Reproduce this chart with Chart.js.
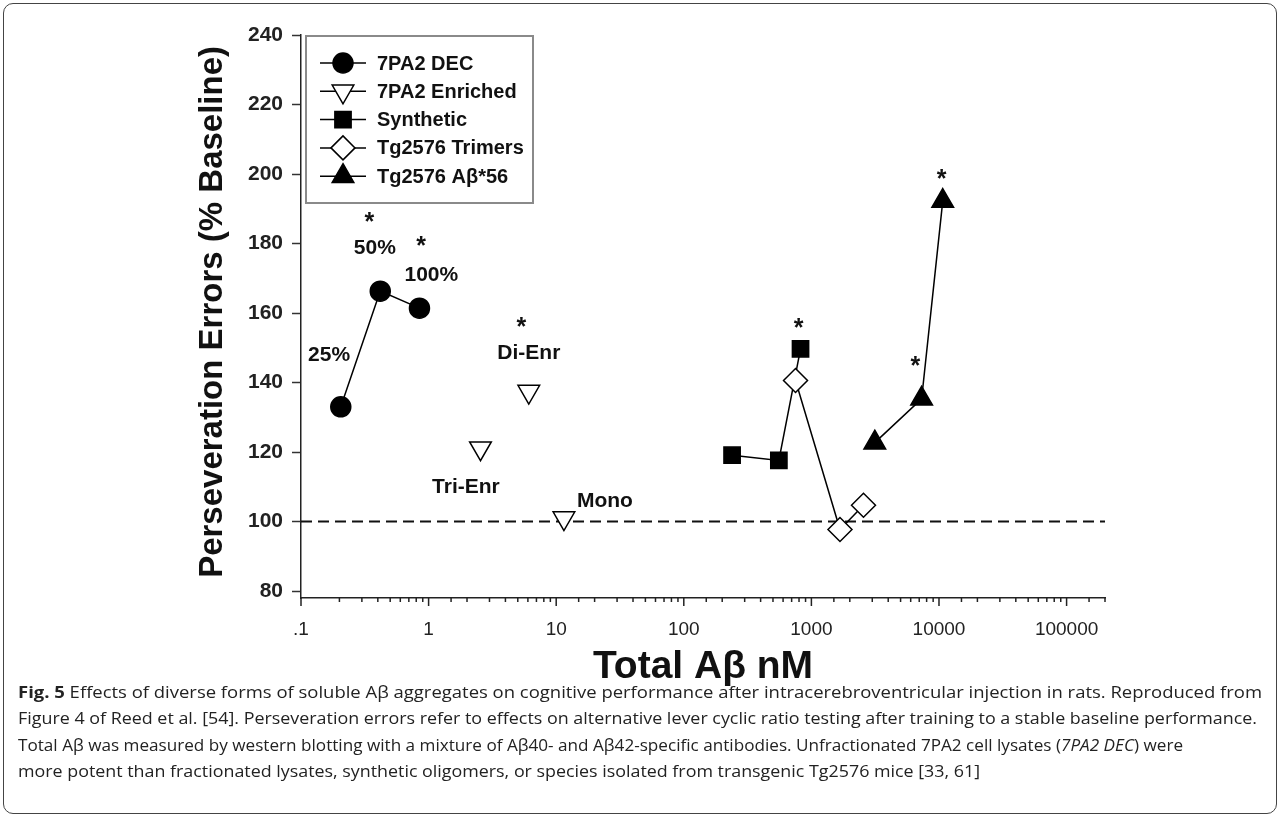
<!DOCTYPE html>
<html>
<head>
<meta charset="utf-8">
<script src="https://cdn.jsdelivr.net/npm/chart.js@4.4.1/dist/chart.umd.min.js"></script>
<style>
  html, body { margin: 0; padding: 0; background: #fff; }
  body { width: 1281px; height: 818px; position: relative; overflow: hidden; }
  #frame { position: absolute; left: 3px; top: 3px; width: 1272px; height: 809px; border: 1.5px solid #444; border-radius: 10px; }
  #chart { position: absolute; left: 0; top: 0; }
  #caption { position: absolute; left: 18px; top: 679px; font-family: "Open Sans", "Noto Sans", sans-serif; font-size: 16px; line-height: 26.4px; color: #222; }
  #caption div { white-space: nowrap; height: 26.4px; }
  #caption span { display: inline-block; transform-origin: 0 0; }
</style>
</head>
<body>
<div id="frame"></div>
<canvas id="chart" width="1281" height="700"></canvas>
<div id="caption">
  <div><span><b>Fig. 5</b> Effects of diverse forms of soluble Aβ aggregates on cognitive performance after intracerebroventricular injection in rats. Reproduced from</span></div>
  <div><span>Figure 4 of Reed et al. [54]. Perseveration errors refer to effects on alternative lever cyclic ratio testing after training to a stable baseline performance.</span></div>
  <div><span>Total Aβ was measured by western blotting with a mixture of Aβ40- and Aβ42-specific antibodies. Unfractionated 7PA2 cell lysates (<i>7PA2 DEC</i>) were</span></div>
  <div><span>more potent than fractionated lysates, synthetic oligomers, or species isolated from transgenic Tg2576 mice [33, 61]</span></div>
</div>
<script>
// axis ranges and ticks
const xMin = 0.1, xMax = 200000;
const yMin = 78, yMax = 240;
const yTicks = [80, 100, 120, 140, 160, 180, 200, 220, 240];
const xTickValues = [0.1, 1, 10, 100, 1000, 10000, 100000];
const xTickLabels = [".1", "1", "10", "100", "1000", "10000", "100000"];
const baselineY = 100;

// series (x = total Abeta nM, y = % baseline)
const seriesNames = ["7PA2 DEC", "7PA2 Enriched", "Synthetic", "Tg2576 Trimers", "Tg2576 Aβ*56"];
const decX = [0.205, 0.418, 0.848];
const decY = [133.0, 166.3, 161.4];
const enrX = [2.55, 6.1, 11.5];
const enrY = [121.1, 137.4, 101.0];
const synX = [239, 556, 822];
const synY = [119.1, 117.6, 149.7];
const triX = [751, 1675, 2560];
const triY = [140.6, 97.7, 104.7];
const a56X = [3140, 7310, 10700];
const a56Y = [122.7, 135.3, 192.2];

// text labels placed in data coordinates
const noteText = ["25%", "*", "50%", "*", "100%", "*", "Di-Enr", "Tri-Enr", "Mono", "*", "*", "*"];
const noteX = [0.166, 0.343, 0.379, 0.873, 1.05, 5.33, 6.1, 1.96, 24.1, 794, 6515, 10500];
const noteY = [147.8, 187.8, 178.7, 181.1, 170.9, 157.6, 148.5, 109.9, 105.9, 157.4, 146.4, 200.2];

// caption line widths measured on the figure
const captionWidths = [1244, 1239, 1165, 962];

const FONT = '"Liberation Sans", Arial, sans-serif';

function pts(xs, ys) {
  return xs.map((x, i) => ({ x: x, y: ys[i] }));
}

// legend drawn by hand: line through marker, boxed
const legendBox = {
  id: "legendBox",
  afterDraw(chart) {
    const ctx = chart.ctx;
    ctx.save();
    ctx.strokeStyle = "#8a8a8a";
    ctx.lineWidth = 2;
    ctx.strokeRect(306, 36, 227, 167);
    chart.data.datasets.forEach((ds, i) => {
      if (ds.label === "baseline") return;
      const y = 63 + i * 28.3;
      ctx.strokeStyle = "#000";
      ctx.lineWidth = 1.5;
      ctx.beginPath();
      ctx.moveTo(320, y);
      ctx.lineTo(366, y);
      ctx.stroke();
      ctx.fillStyle = ds.pointBackgroundColor;
      ctx.strokeStyle = "#000";
      ctx.lineWidth = ds.pointBorderWidth;
      Chart.helpers.drawPoint(ctx, {
        pointStyle: ds.pointStyle,
        radius: ds.pointRadius,
        rotation: ds.pointRotation || 0,
        borderWidth: ds.pointBorderWidth
      }, 343, y);
      ctx.fillStyle = "#111";
      ctx.font = "bold 20px " + FONT;
      ctx.textAlign = "left";
      ctx.textBaseline = "middle";
      ctx.fillText(ds.label, 377, y + 1);
    });
    ctx.restore();
  }
};

// asterisks and group labels
const notes = {
  id: "notes",
  afterDatasetsDraw(chart) {
    const ctx = chart.ctx;
    const xs = chart.scales.x, ys = chart.scales.y;
    ctx.save();
    ctx.fillStyle = "#111";
    ctx.textAlign = "center";
    noteText.forEach((t, i) => {
      const px = xs.getPixelForValue(noteX[i]);
      const py = ys.getPixelForValue(noteY[i]);
      if (t === "*") {
        ctx.font = "bold 25px " + FONT;
        ctx.textBaseline = "alphabetic";
        ctx.fillText(t, px, py + 14);
      } else {
        ctx.font = "bold 21px " + FONT;
        ctx.textBaseline = "middle";
        ctx.fillText(t, px, py);
      }
    });
    ctx.restore();
  }
};

// x tick marks: long at decades, short in between
const xTickMarks = {
  id: "xTickMarks",
  afterDraw(chart) {
    const ctx = chart.ctx;
    const sc = chart.scales.x;
    const y0 = chart.chartArea.bottom;
    ctx.save();
    ctx.strokeStyle = "#222";
    ctx.lineWidth = 1.5;
    sc.ticks.forEach(t => {
      const lg = Math.log10(t.value);
      const major = Math.abs(lg - Math.round(lg)) < 1e-6;
      const px = sc.getPixelForValue(t.value);
      ctx.beginPath();
      ctx.moveTo(px, y0);
      ctx.lineTo(px, y0 + (major ? 8 : 4));
      ctx.stroke();
    });
    ctx.restore();
  }
};

new Chart(document.getElementById("chart"), {
  type: "scatter",
  data: {
    datasets: [
      {
        label: seriesNames[0], data: pts(decX, decY), showLine: true,
        borderColor: "#000", borderWidth: 1.5,
        pointStyle: "circle", pointRadius: 10,
        pointBackgroundColor: "#000", pointBorderColor: "#000", pointBorderWidth: 1.5,
        order: 2
      },
      {
        label: seriesNames[1], data: pts(enrX, enrY), showLine: false,
        pointStyle: "triangle", pointRotation: 180, pointRadius: 12.5,
        pointBackgroundColor: "#fff", pointBorderColor: "#000", pointBorderWidth: 1.5,
        order: 2
      },
      {
        label: seriesNames[2], data: pts(synX, synY), showLine: true,
        borderColor: "#000", borderWidth: 1.5,
        pointStyle: "rect", pointRadius: 11.5,
        pointBackgroundColor: "#000", pointBorderColor: "#000", pointBorderWidth: 1.5,
        order: 5
      },
      {
        label: seriesNames[3], data: pts(triX, triY), showLine: true,
        borderColor: "#000", borderWidth: 1.5,
        pointStyle: "rectRot", pointRadius: 12,
        pointBackgroundColor: "#fff", pointBorderColor: "#000", pointBorderWidth: 1.5,
        order: 1
      },
      {
        label: seriesNames[4], data: pts(a56X, a56Y), showLine: true,
        borderColor: "#000", borderWidth: 1.5,
        pointStyle: "triangle", pointRadius: 12.5,
        pointBackgroundColor: "#000", pointBorderColor: "#000", pointBorderWidth: 1.5,
        order: 2
      },
      {
        label: "baseline", data: [{ x: xMin, y: baselineY }, { x: xMax, y: baselineY }],
        showLine: true, borderColor: "#111", borderWidth: 2, borderDash: [11, 6],
        pointRadius: 0, order: 10
      }
    ]
  },
  options: {
    responsive: false,
    devicePixelRatio: 1,
    animation: false,
    events: [],
    layout: { padding: { left: 189, top: 35, right: 176, bottom: 5 } },
    plugins: { legend: { display: false }, tooltip: { enabled: false } },
    scales: {
      x: {
        type: "logarithmic",
        min: xMin, max: xMax,
        afterFit: s => { s.height = 97; },
        grid: { display: false, drawTicks: false },
        border: { display: true, color: "#222", width: 1.5 },
        ticks: {
          autoSkip: false, maxRotation: 0, padding: 20,
          color: "#222", font: { family: FONT, size: 19 },
          callback: v => {
            const k = xTickValues.findIndex(t => Math.abs(t - v) / t < 1e-6);
            return k >= 0 ? xTickLabels[k] : "";
          }
        },
        title: {
          display: true, text: "Total Aβ nM", color: "#111",
          font: { family: FONT, size: 39, weight: "bold" }
        }
      },
      y: {
        min: yMin, max: yMax,
        afterFit: s => { s.width = 112; },
        afterBuildTicks: s => { s.ticks = yTicks.map(v => ({ value: v })); },
        grid: { drawOnChartArea: false, tickLength: 9, tickColor: "#333", tickWidth: 1.5 },
        border: { display: true, color: "#222", width: 1.5 },
        ticks: {
          padding: 9, color: "#222",
          font: { family: FONT, size: 21, weight: "bold" }
        },
        title: {
          display: true, text: " Perseveration Errors (% Baseline)", color: "#111",
          font: { family: FONT, size: 33, weight: "bold" }
        }
      }
    }
  },
  plugins: [legendBox, notes, xTickMarks]
});

// squeeze each caption line to the width it has on the figure
document.querySelectorAll("#caption span").forEach((el, i) => {
  const k = captionWidths[i] / el.getBoundingClientRect().width;
  el.style.transform = "scaleX(" + k + ")";
});
</script>
</body>
</html>
